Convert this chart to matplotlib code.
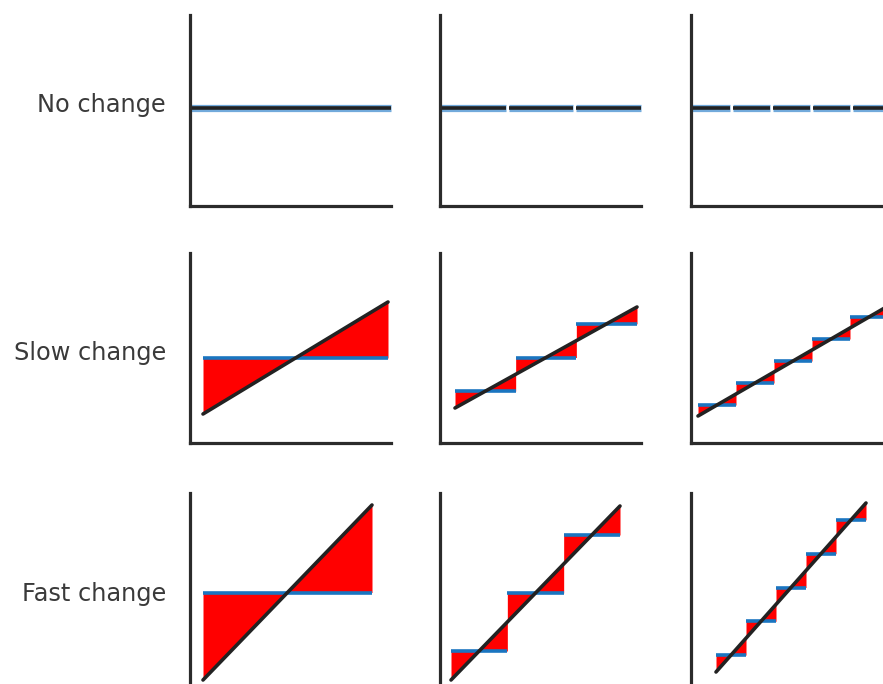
import matplotlib
matplotlib.use('Agg')
import matplotlib.pyplot as plt
import numpy as np

# row labels and number of steps per column
row_labels = ['No change', 'Slow change', 'Fast change']
n_steps = [1, 3, 5]

# signal per panel: (t_start, t_end, v_start, v_end), rows x cols
sig_t0 = [[0, 0, 0], [13, 15, 7], [13, 11, 25]]
sig_t1 = [[201, 201, 201], [198, 197, 197], [182, 180, 175]]
sig_v0 = [[98, 98, 98], [29, 35, 27], [8, 8, 16]]
sig_v1 = [[98, 98, 98], [141, 136, 137], [183, 182, 185]]

W, H = 883, 684
fig = plt.figure(figsize=(W / 100, H / 100), dpi=100)

# axes boxes in pixels (top, bottom) per row, (left, right) per column
row_box = [(15, 206), (253, 443), (493, 688)]
col_box = [(190, 391), (440, 641), (691, 892)]
label_y = [105, 353, 594]

spine_col = '#2b2b2b'
black = '#222222'
blue = '#1a75c0'
light_blue = '#72aadb'
red = '#ff0000'

for r in range(3):
    top, bot = row_box[r]
    for c in range(3):
        left, right = col_box[c]
        w, h = right - left, bot - top
        ax = fig.add_axes([left / W, (H - bot) / H, w / W, h / H])
        ax.set_xlim(0, w)
        ax.set_ylim(0, h)
        for s in ['top', 'right']:
            ax.spines[s].set_visible(False)
        for s in ['left', 'bottom']:
            ax.spines[s].set_color(spine_col)
            ax.spines[s].set_linewidth(2.3)
        ax.set_xticks([])
        ax.set_yticks([])
        ax.patch.set_alpha(0)

        t0, t1 = sig_t0[r][c], sig_t1[r][c]
        v0, v1 = sig_v0[r][c], sig_v1[r][c]
        f = lambda t: v0 + (v1 - v0) * (t - t0) / (t1 - t0)
        n = n_steps[c]
        edges = np.linspace(t0, t1, n + 1)

        if r == 0:
            gap = 1.5
            for i in range(n):
                a = edges[i] + (gap if i > 0 else 0)
                b = edges[i + 1] - (gap if i < n - 1 else 0)
                lvl = f((edges[i] + edges[i + 1]) / 2)
                ax.plot([a, b], [lvl, lvl], color=light_blue, lw=5.2,
                        solid_capstyle='butt', clip_on=False)
                ax.plot([a, b], [lvl + 0.3, lvl + 0.3], color=black, lw=2.6,
                        solid_capstyle='butt', clip_on=False)
        else:
            for i in range(n):
                a, b = edges[i], edges[i + 1]
                lvl = f((a + b) / 2)
                tt = np.array([a, b])
                ax.fill_between(tt, f(tt), lvl, color=red, lw=0)
            for i in range(n):
                a, b = edges[i], edges[i + 1]
                lvl = f((a + b) / 2)
                ax.plot([a, b], [lvl, lvl], color=blue, lw=2.6,
                        solid_capstyle='butt')
            ax.plot([t0, t1], [v0, v1], color=black, lw=2.6,
                    solid_capstyle='round')

    fig.text(166 / W, 1 - label_y[r] / H, row_labels[r], ha='right',
             va='center', fontsize=17.3, color='#3a3a3a')

fig.savefig('out.png', dpi=100)
